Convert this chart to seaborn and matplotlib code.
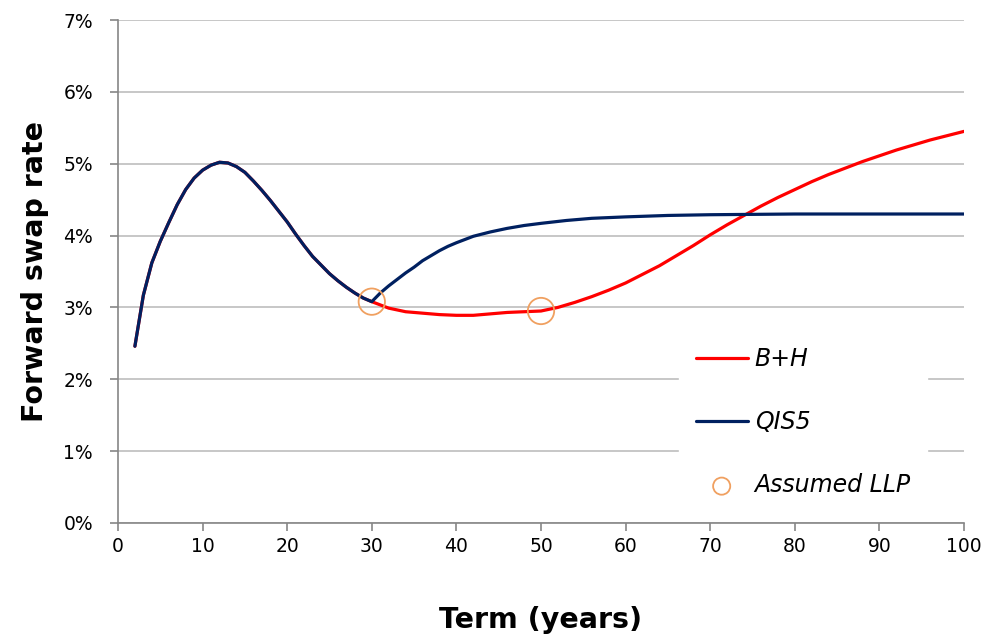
import pandas as pd
import numpy as np
import matplotlib
matplotlib.use("Agg")
import matplotlib.pyplot as plt
import seaborn as sns
from matplotlib.ticker import FuncFormatter

# QIS5 forward swap rate (%)
qis5_term = [2, 3, 4, 5, 6, 7, 8, 9, 10, 11, 12, 13, 14, 15, 16, 17, 18, 19, 20,
             21, 22, 23, 24, 25, 26, 27, 28, 29, 30, 31, 32, 33, 34, 35, 36, 37,
             38, 39, 40, 42, 44, 46, 48, 50, 53, 56, 60, 65, 70, 80, 90, 100]
qis5_rate = [2.46, 3.17, 3.62, 3.92, 4.18, 4.43, 4.64, 4.80, 4.91, 4.98, 5.02,
             5.01, 4.96, 4.88, 4.76, 4.63, 4.49, 4.34, 4.19, 4.02, 3.86, 3.71,
             3.59, 3.47, 3.37, 3.28, 3.20, 3.13, 3.08, 3.20, 3.30, 3.39, 3.48,
             3.56, 3.65, 3.72, 3.79, 3.85, 3.90, 3.99, 4.05, 4.10, 4.14, 4.17,
             4.21, 4.24, 4.26, 4.28, 4.29, 4.30, 4.30, 4.30]

# B+H forward swap rate (%), same as QIS5 up to 30 years
bh_term = [30, 32, 34, 36, 38, 40, 42, 44, 46, 48, 50, 52, 54, 56, 58, 60, 62,
           64, 66, 68, 70, 72, 74, 76, 78, 80, 82, 84, 86, 88, 90, 92, 94, 96,
           98, 100]
bh_rate = [3.08, 2.99, 2.94, 2.92, 2.90, 2.89, 2.89, 2.91, 2.93, 2.94, 2.95,
           3.00, 3.07, 3.15, 3.24, 3.34, 3.46, 3.58, 3.72, 3.86, 4.01, 4.15,
           4.28, 4.41, 4.53, 4.64, 4.75, 4.85, 4.94, 5.03, 5.11, 5.19, 5.26,
           5.33, 5.39, 5.45]

# assumed last liquid points
llp_term = [30, 50]
llp_rate = [3.08, 2.95]

bh_full_term = qis5_term[:qis5_term.index(30)] + bh_term
bh_full_rate = qis5_rate[:qis5_term.index(30)] + bh_rate

df_bh = pd.DataFrame({"term": bh_full_term, "rate": bh_full_rate})
df_qis = pd.DataFrame({"term": qis5_term, "rate": qis5_rate})
df_llp = pd.DataFrame({"term": llp_term, "rate": llp_rate})

sns.set_theme(style="white")
plt.rcParams['font.family'] = ['DejaVu Sans']

fig = plt.figure(figsize=(9.84, 6.37), dpi=100)
ax = fig.add_axes([0.1199, 0.179, 0.8598, 0.7896])

sns.lineplot(data=df_bh, x="term", y="rate", ax=ax, color="#FF0000",
             linewidth=2.3, label="B+H", zorder=3)
sns.lineplot(data=df_qis, x="term", y="rate", ax=ax, color="#002060",
             linewidth=2.3, label="QIS5", zorder=4)
sns.scatterplot(data=df_llp, x="term", y="rate", ax=ax, s=360,
                facecolors="none", edgecolor="#F0A060", linewidth=1.3,
                label="Assumed LLP", zorder=5)

ax.set_xlim(0, 100)
ax.set_ylim(0, 7)
ax.set_xticks(range(0, 101, 10))
ax.set_yticks(range(0, 8))
ax.yaxis.set_major_formatter(FuncFormatter(lambda v, p: "%d%%" % v))
ax.grid(axis="y", color="#BEBEBE", linewidth=1.2)
ax.set_axisbelow(True)

for s in ["top", "right"]:
    ax.spines[s].set_visible(False)
ax.spines["left"].set_color("#868686")
ax.spines["bottom"].set_color("#868686")
ax.spines["left"].set_linewidth(1.2)
ax.spines["bottom"].set_linewidth(1.2)
ax.tick_params(axis="both", which="major", direction="out", length=6,
               width=1.2, color="#868686", labelsize=13.5, labelcolor="black",
               bottom=True, left=True)
ax.tick_params(axis="x", pad=4)
ax.tick_params(axis="y", pad=12)

ax.set_xlabel("Term (years)", fontsize=20.5, fontweight="bold", labelpad=36,
              color="black")
ax.set_ylabel("Forward swap rate", fontsize=20.5, fontweight="bold",
              labelpad=10, color="black")

leg = ax.legend(loc="center", bbox_to_anchor=(0.81, 0.2), frameon=True,
                fontsize=17, labelspacing=1.65, handlelength=2.2,
                handletextpad=0.3, borderpad=0.7, borderaxespad=0,
                markerscale=0.65, labelcolor="black")
leg.get_frame().set_facecolor("white")
leg.get_frame().set_edgecolor("white")
leg.get_frame().set_alpha(1)
leg.get_frame().set_boxstyle("square", pad=0)
for t in leg.get_texts():
    t.set_fontstyle("italic")

fig.savefig("out.png", dpi=100)
